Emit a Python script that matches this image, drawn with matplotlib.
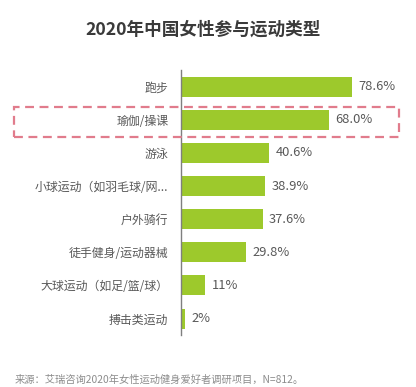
import matplotlib.pyplot as plt
from matplotlib.patches import Rectangle

plt.rcParams['font.family'] = ['Noto Sans CJK SC', 'DejaVu Sans']

categories = ["跑步", "瑜伽/操课", "游泳", "小球运动（如羽毛球/网...",
              "户外骑行", "徒手健身/运动器械", "大球运动（如足/篮/球）", "搏击类运动"]
values = [78.6, 68.0, 40.6, 38.9, 37.6, 29.8, 11, 2]
value_labels = ["78.6%", "68.0%", "40.6%", "38.9%", "37.6%", "29.8%", "11%", "2%"]

fig = plt.figure(figsize=(4.16, 3.87), dpi=100)
ax = fig.add_axes([0.435, 0.134, 0.522, 0.685])

y = list(range(len(categories)))
ax.barh(y, values, height=0.6, color="#9DC92C")
ax.set_ylim(len(categories) - 0.5, -0.5)
ax.set_xlim(0, 100)

for yi, v, lab in zip(y, values, value_labels):
    ax.text(v + 3, yi, lab, va="center", ha="left", fontsize=9.3, color="#595959")

ax.set_yticks(y)
ax.set_yticklabels(categories, fontsize=8.6, color="#595959")
ax.tick_params(axis="y", length=0, pad=9)
ax.set_xticks([])
for s in ["top", "right", "bottom"]:
    ax.spines[s].set_visible(False)
ax.spines["left"].set_color("#7f7f7f")
ax.spines["left"].set_linewidth(1.0)

# dashed highlight box around second row
fig.patches.append(Rectangle((14 / 416, 1 - 137 / 387), (399 - 14) / 416, 30 / 387,
                             transform=fig.transFigure, fill=False,
                             edgecolor="#E17C8C", linestyle=(0, (4, 2.5)), linewidth=1.6))

fig.text(0.488, 1 - 30 / 387, "2020年中国女性参与运动类型", ha="center", va="center",
         fontsize=12.7, fontweight="bold", color="#3a3a3a")
fig.text(15 / 416, 1 - 380 / 387, "来源：艾瑞咨询2020年女性运动健身爱好者调研项目，N=812。",
         ha="left", va="center", fontsize=7.4, color="#8c8c8c")

fig.savefig("out.png", dpi=100, facecolor="white")
